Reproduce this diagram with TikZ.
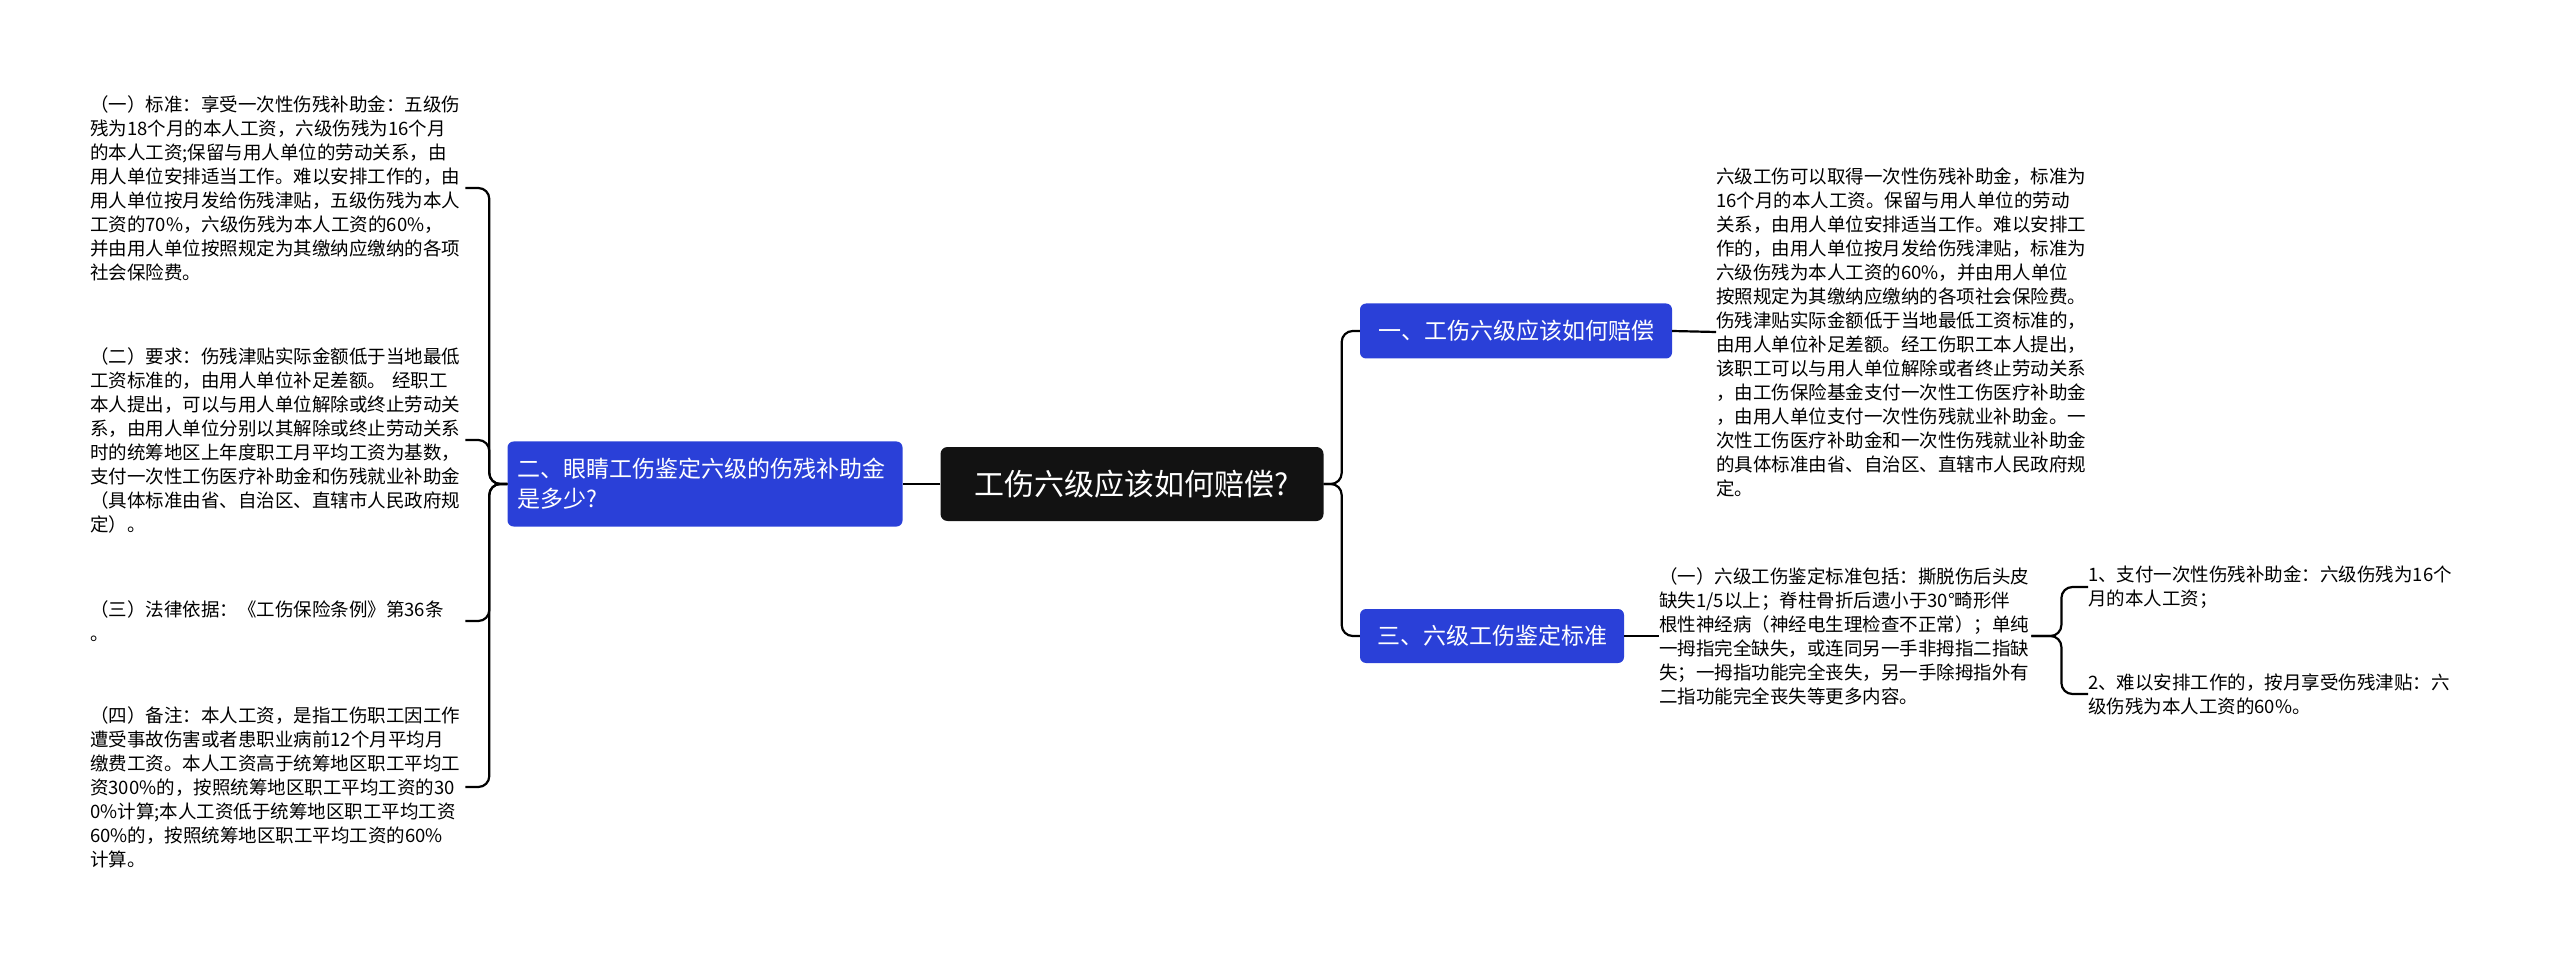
\documentclass[tikz,border=0pt]{standalone}
\usepackage{fontspec}
\setmainfont{Noto Sans CJK SC}
\begin{document}
\begin{tikzpicture}[x=1pt,y=-1pt,
  txt/.style={anchor=west,inner sep=0pt,align=left,text width=375pt,font=\fontsize{18.5}{24}\selectfont},
  bluebox/.style={fill=blue!62!cyan!70!black,fill opacity=1,draw=none,rounded corners=6pt,text=white,font=\fontsize{23}{30}\selectfont,align=left,inner xsep=10pt},
  link/.style={line width=2.2pt,rounded corners=11pt}]
\definecolor{nodeblue}{HTML}{2A40D8}
\useasboundingbox (0,0) rectangle (2560,957);
\node[fill=black!93,rounded corners=7pt,text=white,font=\fontsize{30}{36}\selectfont,minimum width=383pt,minimum height=74pt] (c) at (1132,484) {工伤六级应该如何赔偿?};
\node[bluebox,fill=nodeblue,minimum height=85pt,text width=375pt] (L) at (705,484) {二、眼睛工伤鉴定六级的伤残补助金\\是多少?};
\node[bluebox,fill=nodeblue,minimum height=55pt,minimum width=312pt] (r1) at (1516,331) {一、工伤六级应该如何赔偿};
\node[bluebox,fill=nodeblue,minimum height=54pt,minimum width=264pt] (r3) at (1492,636) {三、六级工伤鉴定标准};
\node[txt] (l1) at (90,188) {（一）标准：享受一次性伤残补助金：五级伤\\残为18个月的本人工资，六级伤残为16个月\\的本人工资;保留与用人单位的劳动关系，由\\用人单位安排适当工作。难以安排工作的，由\\用人单位按月发给伤残津贴，五级伤残为本人\\工资的70\%，六级伤残为本人工资的60\%，\\并由用人单位按照规定为其缴纳应缴纳的各项\\社会保险费。};
\node[txt] (l2) at (90,440) {（二）要求：伤残津贴实际金额低于当地最低\\工资标准的，由用人单位补足差额。 经职工\\本人提出，可以与用人单位解除或终止劳动关\\系，由用人单位分别以其解除或终止劳动关系\\时的统筹地区上年度职工月平均工资为基数，\\支付一次性工伤医疗补助金和伤残就业补助金\\（具体标准由省、自治区、直辖市人民政府规\\定）。};
\node[txt] (l3) at (90,621) {（三）法律依据：《工伤保险条例》第36条\\。};
\node[txt] (l4) at (90,787) {（四）备注：本人工资，是指工伤职工因工作\\遭受事故伤害或者患职业病前12个月平均月\\缴费工资。本人工资高于统筹地区职工平均工\\资300\%的，按照统筹地区职工平均工资的30\\0\%计算;本人工资低于统筹地区职工平均工资\\60\%的，按照统筹地区职工平均工资的60\%\\计算。};
\node[txt] (t1) at (1716,332) {六级工伤可以取得一次性伤残补助金，标准为\\16个月的本人工资。保留与用人单位的劳动\\关系，由用人单位安排适当工作。难以安排工\\作的，由用人单位按月发给伤残津贴，标准为\\六级伤残为本人工资的60\%，并由用人单位\\按照规定为其缴纳应缴纳的各项社会保险费。\\伤残津贴实际金额低于当地最低工资标准的，\\由用人单位补足差额。经工伤职工本人提出，\\该职工可以与用人单位解除或者终止劳动关系\\，由工伤保险基金支付一次性工伤医疗补助金\\，由用人单位支付一次性伤残就业补助金。一\\次性工伤医疗补助金和一次性伤残就业补助金\\的具体标准由省、自治区、直辖市人民政府规\\定。};
\node[txt,text width=372pt] (t3) at (1659,636) {（一）六级工伤鉴定标准包括：撕脱伤后头皮\\缺失1/5以上；脊柱骨折后遗小于30°畸形伴\\根性神经病（神经电生理检查不正常）；单纯\\一拇指完全缺失，或连同另一手非拇指二指缺\\失；一拇指功能完全丧失，另一手除拇指外有\\二指功能完全丧失等更多内容。};
\node[txt] (s1) at (2088,587) {1、支付一次性伤残补助金：六级伤残为16个\\月的本人工资；};
\node[txt] (s2) at (2088,694) {2、难以安排工作的，按月享受伤残津贴：六\\级伤残为本人工资的60\%。};
\draw[link] (c.west) -- (L.east);
\foreach \k in {l1,l2,l3,l4} \draw[link] (L.west) -- ++(-18,0) |- (\k.east);
\foreach \k in {r1,r3} \draw[link] (c.east) -- ++(18,0) |- (\k.west);
\draw[link] (r1.east) -- (t1.west);
\draw[link] (r3.east) -- (t3.west);
\foreach \k in {s1,s2} \draw[link] (t3.east) -- ++(30,0) |- (\k.west);
\end{tikzpicture}
\end{document}
